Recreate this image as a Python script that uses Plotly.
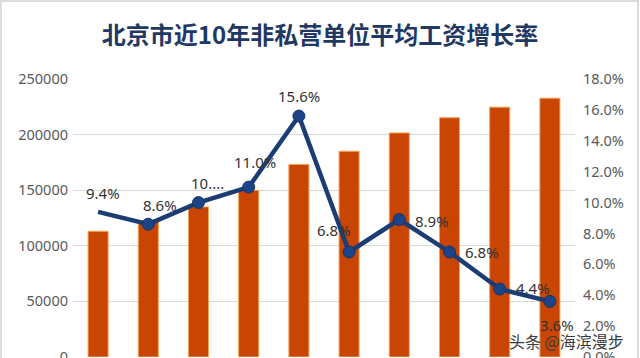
import plotly.graph_objects as go

title = "北京市近10年非私营单位平均工资增长率"
years = ["2015", "2016", "2017", "2018", "2019", "2020", "2021", "2022", "2023", "2024"]
wages = [113073, 122749, 134994, 149843, 173205, 185026, 201503, 215200, 224700, 232800]
growth = [9.4, 8.6, 10.0, 11.0, 15.6, 6.8, 8.9, 6.8, 4.4, 3.6]
growth_labels = ["9.4%", "8.6%", "10....", "11.0%", "15.6%", "6.8%", "8.9%", "6.8%", "4.4%", "3.6%"]
label_dx = [5, 12, 9, 6, 0, -15, 33, 32, 33, 7]
label_dy = [19, 19, 20, 25, 20, 22, -1, 0, 1, -24]
marker_sizes = [0, 12, 12, 12, 12, 12, 12, 12, 12, 12]
left_ticks = [0, 50000, 100000, 150000, 200000, 250000]
right_ticks = [0, 2, 4, 6, 8, 10, 12, 14, 16, 18]

W, H = 640, 358
L, R, T, B = 73, 65, 79, 1
pw, ph = W - L - R, H - T - B


def px_x(x):
    return (x - L) / pw


def px_y(y):
    return (H - B - y) / ph


fig = go.Figure()
fig.add_trace(go.Bar(
    x=years, y=wages, width=0.4,
    marker=dict(color="#C84504", line=dict(color="#F2A65A", width=1)),
    yaxis="y", showlegend=False, hoverinfo="skip",
))
fig.add_trace(go.Scatter(
    x=years, y=growth, yaxis="y2", mode="lines+markers",
    line=dict(color="#1C3C74", width=4.5),
    marker=dict(size=marker_sizes, color="#1E4488", opacity=1, line=dict(color="#163466", width=1)),
    showlegend=False, hoverinfo="skip",
))

for i, (y, t, dx, dy) in enumerate(zip(growth, growth_labels, label_dx, label_dy)):
    fig.add_annotation(x=i, y=y, xref="x", yref="y2", text=t, showarrow=False,
                       xshift=dx, yshift=dy,
                       font=dict(family="Noto Sans, sans-serif", size=15, color="#333333"))

# watermark
fig.add_annotation(x=px_x(626), y=px_y(341), xref="paper", yref="paper",
                   xanchor="right", yanchor="middle", text="头条 @海滨漫步", showarrow=False,
                   font=dict(family="Noto Sans CJK SC", size=16, color="#3A3A3A"))

# light frame around the picture
fig.add_shape(type="rect", xref="paper", yref="paper",
              x0=px_x(1), x1=px_x(638), y0=px_y(H + 5), y1=px_y(1),
              line=dict(color="#DCDCDC", width=2), fillcolor="rgba(0,0,0,0)", layer="above")

fig.update_layout(
    width=W, height=H,
    margin=dict(l=L, r=R, t=T, b=B),
    paper_bgcolor="white", plot_bgcolor="white",
    title=dict(text="<b>" + title + "</b>", x=0.5, xanchor="center", y=1 - 36 / H, yanchor="middle",
               font=dict(family="Noto Sans CJK SC", size=24, color="#1F3864")),
    xaxis=dict(type="category", range=[-0.5, 9.5], showticklabels=False, showgrid=False,
               zeroline=False, showline=False, ticks=""),
    yaxis=dict(range=[0, 250000], tickvals=left_ticks, ticktext=[str(v) for v in left_ticks],
               showgrid=True, gridcolor="#D9D9D9", gridwidth=1, zeroline=False,
               tickfont=dict(family="Noto Sans, sans-serif", size=14.5, color="#595959"),
               automargin=False, ticklabelstandoff=4, ticklabeloverflow="allow"),
    yaxis2=dict(range=[0, 18], overlaying="y", side="right", tickvals=right_ticks,
                ticktext=["%.1f%%" % v for v in right_ticks], showgrid=False, zeroline=False,
                tickfont=dict(family="Noto Sans, sans-serif", size=14.5, color="#595959"),
                automargin=False, ticklabelstandoff=7, ticklabeloverflow="allow"),
)

fig.write_html("out.html", config={"displayModeBar": False},
               post_script="document.body.style.margin='0';")
